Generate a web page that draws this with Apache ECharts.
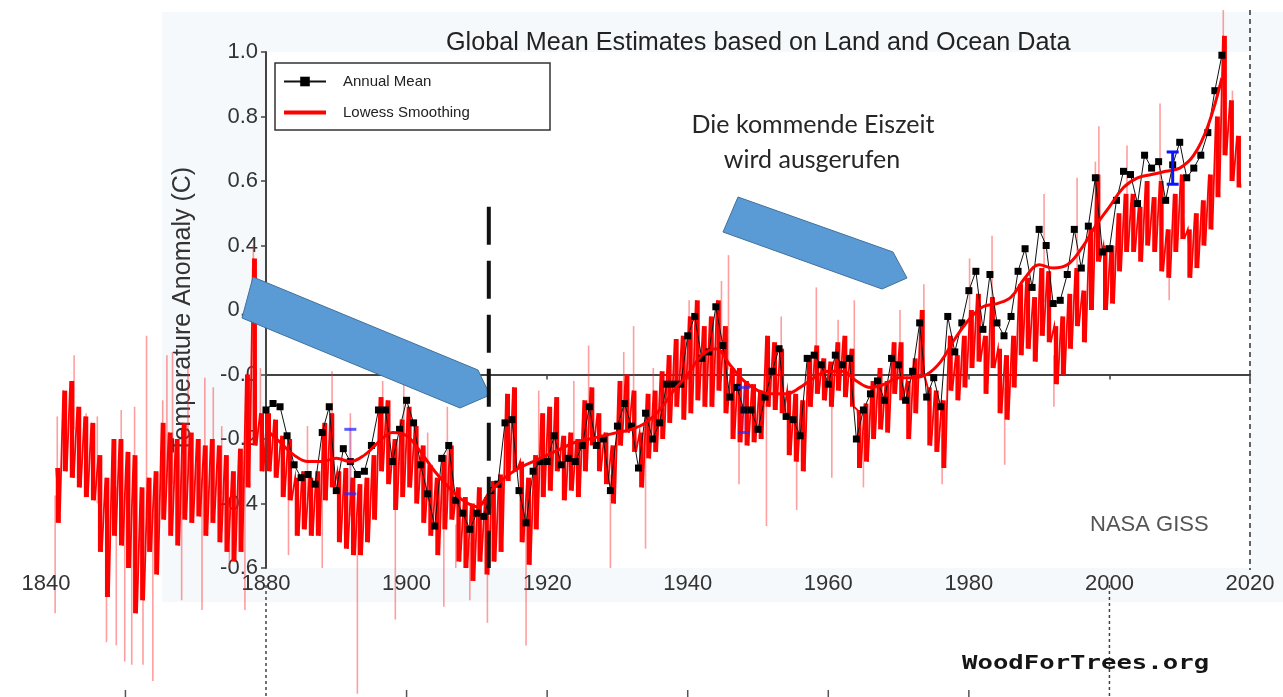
<!DOCTYPE html>
<html><head><meta charset="utf-8">
<script src="https://cdn.jsdelivr.net/npm/echarts@6/dist/echarts.min.js"></script>
<style>html,body{margin:0;padding:0;background:#fff}#c{width:1283px;height:697px}</style>
</head><body><div id="c"></div>
<script>
// ---------------- DATA ----------------
const xTickYears = [1880, 1900, 1920, 1940, 1960, 1980, 2000, 2020];
const wftTickYears = [1860, 1900, 1920, 1940, 1960, 1980];

// NASA GISS annual mean, 1880..2016
const gissStartYear = 1880;
const gissAnnual = [
 -0.11,-0.09,-0.10,-0.19,-0.28,-0.32,-0.31,-0.34,-0.18,-0.10,
 -0.36,-0.23,-0.27,-0.31,-0.30,-0.22,-0.11,-0.11,-0.27,-0.17,
 -0.08,-0.15,-0.28,-0.37,-0.47,-0.26,-0.22,-0.39,-0.43,-0.48,
 -0.43,-0.44,-0.36,-0.34,-0.15,-0.14,-0.36,-0.46,-0.30,-0.27,
 -0.27,-0.19,-0.28,-0.26,-0.27,-0.22,-0.10,-0.22,-0.20,-0.36,
 -0.16,-0.09,-0.16,-0.29,-0.12,-0.20,-0.15,-0.03,-0.03,-0.03,
  0.12, 0.18, 0.05, 0.07, 0.21, 0.09,-0.07,-0.04,-0.11,-0.11,
 -0.17,-0.07, 0.01, 0.08,-0.13,-0.14,-0.19, 0.05, 0.06, 0.03,
 -0.03, 0.06, 0.03, 0.05,-0.20,-0.11,-0.06,-0.02,-0.08, 0.05,
  0.03,-0.08, 0.01, 0.16,-0.07,-0.01,-0.10, 0.18, 0.07, 0.16,
  0.26, 0.32, 0.14, 0.31, 0.16, 0.12, 0.18, 0.32, 0.39, 0.27,
  0.45, 0.40, 0.22, 0.23, 0.31, 0.45, 0.33, 0.46, 0.61, 0.38,
  0.39, 0.54, 0.63, 0.62, 0.53, 0.68, 0.64, 0.66, 0.54, 0.65,
  0.72, 0.61, 0.64, 0.68, 0.75, 0.88, 0.99
];

// Lowess smoothing
const lowessYears = [1880,1882,1884,1886,1888,1890,1892,1894,1896,1898,1900,1902,1904,1906,1908,1910,1912,1914,1916,1918,1920,1922,1924,1926,1928,1930,1932,1934,1936,1938,1940,1942,1944,1946,1948,1950,1952,1954,1956,1958,1960,1962,1964,1966,1968,1970,1972,1974,1976,1978,1980,1982,1984,1986,1988,1990,1992,1994,1996,1998,2000,2002,2004,2006,2008,2010,2012,2014,2016];
const lowessValues = [-0.17,-0.21,-0.25,-0.27,-0.27,-0.26,-0.27,-0.25,-0.21,-0.18,-0.19,-0.24,-0.30,-0.35,-0.39,-0.41,-0.36,-0.32,-0.29,-0.27,-0.25,-0.23,-0.21,-0.20,-0.19,-0.18,-0.17,-0.15,-0.11,-0.05,0.00,0.06,0.08,0.03,-0.02,-0.05,-0.06,-0.06,-0.04,-0.01,0.01,0.01,-0.02,-0.04,-0.03,-0.01,-0.01,0.00,0.04,0.11,0.17,0.21,0.22,0.24,0.30,0.34,0.33,0.34,0.39,0.46,0.52,0.58,0.61,0.62,0.63,0.64,0.68,0.77,0.92];

// uncertainty bars
const errYears = [1892, 1948, 2009];
const errLow  = [-0.37, -0.18, 0.59];
const errHigh = [-0.17, -0.04, 0.69];

// WoodForTrees monthly series (1850..2018): yearly envelope of the dense core
const wftStartYear = 1850;
const wftHigh = [
 -0.29,-0.05,-0.02,-0.10,-0.13,-0.15,-0.25,-0.32,-0.20,-0.20,
 -0.24,-0.25,-0.35,-0.32,-0.30,-0.15,-0.18,-0.20,-0.15,-0.18,
 -0.20,-0.22,-0.20,-0.22,-0.25,-0.30,-0.23, 0.00, 0.36,-0.12,
 -0.12,-0.14,-0.19,-0.20,-0.32,-0.30,-0.32,-0.30,-0.15,-0.12,
 -0.30,-0.29,-0.32,-0.34,-0.32,-0.25,-0.07,-0.08,-0.20,-0.14,
 -0.10,-0.16,-0.22,-0.28,-0.32,-0.25,-0.22,-0.35,-0.38,-0.40,
 -0.35,-0.38,-0.33,-0.31,-0.06,-0.04,-0.27,-0.32,-0.25,-0.12,
 -0.10,-0.07,-0.19,-0.18,-0.20,-0.08,-0.04,-0.12,-0.18,-0.22,
 -0.02, 0.00,-0.05,-0.18,-0.06,-0.05, 0.01, 0.06, 0.11, 0.12,
  0.18, 0.23, 0.15, 0.18, 0.23, 0.15, 0.02, 0.02,-0.02,-0.03,
 -0.05, 0.12, 0.10, 0.08,-0.05,-0.06,-0.08, 0.06, 0.09, 0.05,
  0.04, 0.10, 0.12, 0.08,-0.11,-0.09,-0.02, 0.02,-0.02, 0.10,
  0.10,-0.02, 0.05, 0.20,-0.04,-0.05,-0.08, 0.12, 0.06, 0.12,
  0.20, 0.25, 0.12, 0.24, 0.08, 0.06, 0.12, 0.28, 0.30, 0.24,
  0.33, 0.32, 0.15, 0.18, 0.25, 0.33, 0.26, 0.45, 0.62, 0.40,
  0.40, 0.50, 0.56, 0.56, 0.52, 0.60, 0.55, 0.60, 0.45, 0.56,
  0.62, 0.45, 0.50, 0.54, 0.62, 0.80, 1.05, 0.85, 0.74
];
const wftLow = [
 -0.46,-0.30,-0.32,-0.35,-0.38,-0.39,-0.55,-0.69,-0.50,-0.53,
 -0.60,-0.74,-0.70,-0.55,-0.62,-0.45,-0.50,-0.53,-0.45,-0.46,
 -0.44,-0.50,-0.46,-0.52,-0.55,-0.58,-0.55,-0.35,-0.22,-0.30,
 -0.30,-0.32,-0.38,-0.39,-0.50,-0.48,-0.50,-0.50,-0.39,-0.35,
 -0.52,-0.54,-0.56,-0.56,-0.52,-0.45,-0.30,-0.34,-0.42,-0.38,
 -0.35,-0.40,-0.46,-0.50,-0.56,-0.48,-0.45,-0.58,-0.60,-0.64,
 -0.58,-0.62,-0.58,-0.55,-0.33,-0.30,-0.52,-0.59,-0.48,-0.38,
 -0.36,-0.30,-0.39,-0.36,-0.38,-0.30,-0.22,-0.30,-0.34,-0.40,
 -0.22,-0.18,-0.24,-0.35,-0.26,-0.24,-0.20,-0.15,-0.10,-0.14,
 -0.12,-0.08,-0.10,-0.10,-0.05,-0.12,-0.20,-0.21,-0.22,-0.21,
 -0.20,-0.10,-0.11,-0.12,-0.25,-0.27,-0.30,-0.10,-0.06,-0.08,
 -0.10,-0.05,-0.07,-0.10,-0.29,-0.27,-0.20,-0.17,-0.18,-0.06,
 -0.08,-0.20,-0.12, 0.00,-0.22,-0.24,-0.29,-0.05,-0.08,-0.04,
  0.02, 0.04,-0.06, 0.02,-0.12,-0.14,-0.04, 0.06, 0.08, 0.04,
  0.12, 0.10,-0.03, 0.00, 0.08, 0.15, 0.10, 0.20, 0.35, 0.20,
  0.22, 0.32, 0.38, 0.38, 0.35, 0.40, 0.38, 0.32, 0.30, 0.38,
  0.42, 0.30, 0.33, 0.40, 0.45, 0.55, 0.68, 0.60, 0.58
];
// isolated monthly extremes (thin spikes)
const wftSpikeYears = [1850.0,1850.3,1852.7,1854.4,1856.0,1857.3,1858.7,1859.4,1859.9,1860.9,1861.3,1862.5,1863.0,1863.9,1865.3,1865.9,1866.7,1868.0,1868.9,1870.9,1871.3,1872.5,1873.7,1874.8,1877.0,1878.2,1879.2,1883.2,1885.9,1888.0,1889.4,1892.0,1893.0,1896.6,1898.4,1899.6,1903.0,1905.3,1905.8,1907.0,1909.0,1911.5,1915.1,1917.0,1918.8,1923.8,1925.9,1929.0,1930.9,1932.3,1934.0,1935.1,1940.2,1944.8,1945.8,1947.3,1951.2,1953.3,1955.5,1958.3,1960.5,1961.4,1963.7,1965.0,1970.2,1973.6,1976.2,1980.1,1983.3,1985.1,1990.7,1992.1,1995.4,1998.0,1998.5,2002.5,2007.2,2008.5,2016.2,2017.5];
const wftSpikeValues = [-0.74,-0.13,0.06,-0.12,-0.13,-0.83,-0.84,-0.11,-0.89,-0.90,-0.10,-0.90,0.12,-0.95,-0.08,0.06,0.07,-0.70,0.02,-0.73,-0.01,-0.04,-0.16,-0.60,-0.73,0.40,0.02,-0.56,-0.16,-0.60,0.01,-0.12,-0.99,-0.02,-0.76,0.05,-0.18,-0.72,-0.10,-0.60,-0.70,-0.77,-0.04,-0.84,-0.05,-0.02,0.09,-0.60,0.07,0.15,-0.54,0.02,0.23,0.29,0.37,-0.34,-0.47,0.18,-0.42,0.27,-0.32,0.17,0.23,-0.35,0.20,0.28,-0.34,0.36,0.43,-0.28,0.56,-0.10,0.61,0.66,0.77,0.71,0.84,0.23,1.13,0.88];

// ---------------- BUILD ----------------
const wftYearData = wftHigh.map((h, i) => [wftStartYear + i, h, wftLow[i], i > 0 ? wftLow[i - 1] : h]);
const spikeData = wftSpikeYears.map((yr, k) => {
  const i = Math.min(wftHigh.length - 1, Math.floor(yr) - wftStartYear);
  return [yr, wftSpikeValues[k], (wftHigh[i] + wftLow[i]) / 2];
});
const annualData = gissAnnual.map((v, i) => [gissStartYear + i, v]);
const lowessData = lowessYears.map((yr, i) => [yr, lowessValues[i]]);
const errData = errYears.map((yr, i) => [yr, errLow[i], errHigh[i]]);

const chart = echarts.init(document.getElementById('c'));
const SANS = 'Liberation Sans, Arial, sans-serif';

chart.setOption({
  animation: false,
  backgroundColor: '#ffffff',
  title: {
    text: 'Global Mean Estimates based on Land and Ocean Data',
    left: 441, top: 26,
    textStyle: {fontFamily: SANS, fontSize: 25.2, fontWeight: 'normal', color: '#222'}
  },
  legend: {
    data: [{name: 'Annual Mean'}, {name: 'Lowess Smoothing', icon: 'path://M0 0H42V4H0Z'}],
    orient: 'vertical', left: 278, top: 69,
    itemWidth: 42, itemHeight: 12, itemGap: 16,
    selectedMode: false,
    textStyle: {fontFamily: SANS, fontSize: 15, color: '#222', padding: [0, 0, 0, 12]}
  },
  grid: {left: 266, right: 33, top: 52, bottom: 129, show: true, backgroundColor: '#ffffff', borderWidth: 0},
  xAxis: {
    type: 'value', min: 1880, max: 2020, interval: 20,
    axisLine: {lineStyle: {color: '#444', width: 2}},
    axisTick: {length: 5, lineStyle: {color: '#444', width: 1.5}},
    axisLabel: {fontFamily: SANS, fontSize: 22, color: '#333', margin: 5, formatter: v => String(v)},
    splitLine: {show: false}
  },
  yAxis: {
    type: 'value', min: -0.6, max: 1.0, interval: 0.2,
    axisLine: {show: true, lineStyle: {color: '#444', width: 2}},
    axisTick: {show: true, length: 5, lineStyle: {color: '#444', width: 1.5}},
    axisLabel: {fontFamily: SANS, fontSize: 22, color: '#333', margin: 8,
      formatter: v => Math.abs(v) < 1e-9 ? '-0.0' : v.toFixed(1)},
    splitLine: {show: false},
    name: 'Temperature Anomaly (C)', nameLocation: 'middle', nameGap: 70,
    nameTextStyle: {fontFamily: SANS, fontSize: 25, color: '#333'}
  },
  series: [
    {
      name: 'wft-spikes', type: 'custom', z: 2, silent: true, clip: false,
      data: spikeData,
      renderItem: (params, api) => {
        const a = api.coord([api.value(0), api.value(1)]);
        const b = api.coord([api.value(0), api.value(2)]);
        return {type: 'line', shape: {x1: a[0], y1: a[1], x2: b[0], y2: b[1]},
          style: {stroke: 'rgba(255,40,40,0.45)', lineWidth: 1.6}};
      }
    },
    {
      name: 'wft-core', type: 'custom', z: 3, silent: true, clip: false,
      data: wftYearData,
      renderItem: (params, api) => {
        const yr = api.value(0), hi = api.value(1), lo = api.value(2), prevLo = api.value(3);
        const p0 = params.dataIndex > 0 ? api.coord([yr - 0.35, prevLo]) : api.coord([yr + 0.15, hi]);
        const p1 = api.coord([yr + 0.15, hi]);
        const p2 = api.coord([yr + 0.65, lo]);
        const b1 = api.coord([yr + 0.4, hi]);
        const b2 = api.coord([yr + 0.4, lo]);
        return {type: 'group', children: [
          {type: 'polyline', shape: {points: [p0, p1, p2]}, style: {stroke: '#ff0000', lineWidth: 1.8, fill: null}},
          {type: 'rect', shape: {x: b1[0] - 2.2, y: b1[1], width: 4.4, height: b2[1] - b1[1]}, style: {fill: '#ff0000'}}
        ]};
      }
    },
    {
      name: 'Annual Mean', type: 'line', z: 4, data: annualData,
      symbol: 'rect', symbolSize: 7, showSymbol: true,
      itemStyle: {color: '#000'}, lineStyle: {color: '#111', width: 1}
    },
    {
      name: 'Lowess Smoothing', type: 'line', z: 5, data: lowessData,
      smooth: 0.4, showSymbol: false, symbol: 'none',
      itemStyle: {color: '#ff0000'}, lineStyle: {color: '#ff0000', width: 3}
    },
    {
      name: 'uncertainty', type: 'custom', z: 6, silent: true, clip: false,
      data: errData,
      renderItem: (params, api) => {
        const x = api.value(0);
        const p1 = api.coord([x, api.value(1)]);
        const p2 = api.coord([x, api.value(2)]);
        const strong = params.dataIndex === errYears.length - 1;
        const col = strong ? '#0a14ff' : 'rgba(40,40,255,0.75)';
        const cap = 6;
        return {type: 'group', children: [
          {type: 'line', shape: {x1: p1[0], y1: p1[1], x2: p2[0], y2: p2[1]}, style: {stroke: col, lineWidth: 3, opacity: strong ? 1 : 0.25}},
          {type: 'line', shape: {x1: p1[0] - cap, y1: p1[1], x2: p1[0] + cap, y2: p1[1]}, style: {stroke: col, lineWidth: 3}},
          {type: 'line', shape: {x1: p2[0] - cap, y1: p2[1], x2: p2[0] + cap, y2: p2[1]}, style: {stroke: col, lineWidth: 3}}
        ]};
      }
    }
  ]
});

// ---------------- ANNOTATIONS ----------------
const px = yr => chart.convertToPixel({xAxisIndex: 0}, yr);
const py = v => chart.convertToPixel({yAxisIndex: 0}, v);
const axisY = py(-0.6);
const els = [];
els.push({type: 'rect', z: -5, silent: true, shape: {x: 162, y: 12, width: 1121, height: 590}, style: {fill: '#f5f9fc'}});
els.push({type: 'rect', z: 1, silent: true, shape: {x: 275, y: 63, width: 275, height: 67}, style: {fill: '#ffffff', stroke: '#333', lineWidth: 1.5}});
els.push({type: 'line', z: 50, silent: true, shape: {x1: px(2020), y1: 10, x2: px(2020), y2: axisY + 2}, style: {stroke: '#333', lineWidth: 1.5, lineDash: [5, 4]}});
[1880, 2000].forEach(yr => {
  els.push({type: 'line', z: 50, silent: true, shape: {x1: px(yr), y1: axisY + 17, x2: px(yr), y2: 697}, style: {stroke: '#444', lineWidth: 1.5, lineDash: [3, 3]}});
});
wftTickYears.forEach(yr => {
  els.push({type: 'line', z: 50, silent: true, shape: {x1: px(yr), y1: 690, x2: px(yr), y2: 697}, style: {stroke: '#555', lineWidth: 1.5}});
});
els.push({type: 'text', z: 50, silent: true, x: 46, y: axisY + 16, style: {text: '1840', font: '22px ' + SANS, fill: '#333', align: 'center', verticalAlign: 'middle'}});
els.push({type: 'polygon', z: 60, silent: true, shape: {points: [[253, 277], [478, 370], [490, 395], [460, 408], [242, 318]]}, style: {fill: '#5b9bd5', stroke: '#41719c', lineWidth: 1}});
els.push({type: 'polygon', z: 60, silent: true, shape: {points: [[738, 197], [893, 252], [907, 278], [882, 289], [723, 232]]}, style: {fill: '#5b9bd5', stroke: '#41719c', lineWidth: 1}});
els.push({type: 'line', z: 70, silent: true, shape: {x1: px(1911.7), y1: py(0.52), x2: px(1911.7), y2: axisY}, style: {stroke: '#111', lineWidth: 4, lineDash: [38, 16]}});
els.push({type: 'text', z: 70, silent: true, x: 813, y: 125, style: {text: 'Die kommende Eiszeit', font: '25px Lato, Calibri, sans-serif', fill: '#262626', align: 'center', verticalAlign: 'middle'}});
els.push({type: 'text', z: 70, silent: true, x: 812, y: 160, style: {text: 'wird ausgerufen', font: '25px Lato, Calibri, sans-serif', fill: '#262626', align: 'center', verticalAlign: 'middle'}});
els.push({type: 'text', z: 50, silent: true, x: 1090, y: 525, style: {text: 'NASA GISS', font: '22px ' + SANS, fill: '#555', align: 'left', verticalAlign: 'middle'}});
els.push({type: 'text', z: 50, silent: true, x: 962, y: 664, scaleX: 1.35, style: {text: 'WoodForTrees.org', font: 'bold 19px "DejaVu Sans Mono", monospace', fill: '#151515', align: 'left', verticalAlign: 'middle'}});
chart.setOption({graphic: {elements: els}});
</script>
</body></html>
